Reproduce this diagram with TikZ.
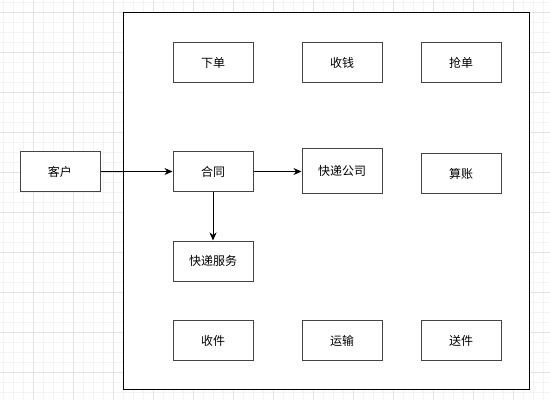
\documentclass[tikz,border=0pt]{standalone}
\usepackage{fontspec}
\newfontfamily\cjk{Noto Sans CJK SC}
\usetikzlibrary{arrows.meta}
\definecolor{minorgrid}{HTML}{F3F3F3}
\definecolor{majorgrid}{HTML}{E3E3E3}
\definecolor{boxline}{HTML}{444444}
\begin{document}
\begin{tikzpicture}[x=1pt,y=-1pt,
  boxnode/.style={draw=boxline,line width=1pt,fill=white,minimum width=80pt,minimum height=40pt,inner sep=0pt,font=\cjk\fontsize{12}{14}\selectfont,anchor=north west},
  conn/.style={line width=1pt,-{Stealth[length=8pt,width=7pt,inset=2.5pt]}}]
\useasboundingbox (0,0) rectangle (550,400);
\fill[white] (0,0) rectangle (550,400);
% grid
\foreach \i in {0,...,55} {\draw[minorgrid,line width=0.5pt] (3.5+10*\i,0) -- (3.5+10*\i,400);}
\foreach \i in {0,...,40} {\draw[minorgrid,line width=0.5pt] (0,2+10*\i) -- (550,2+10*\i);}
\foreach \i in {0,...,13} {\draw[majorgrid,line width=0.8pt] (33.5+40*\i,0) -- (33.5+40*\i,400);}
\foreach \i in {0,...,9} {\draw[majorgrid,line width=0.8pt] (0,12+40*\i) -- (550,12+40*\i);}
% container
\node[draw=black,line width=1pt,fill=white,minimum width=406pt,minimum height=377pt,inner sep=0pt,anchor=north west] (sys) at (123,12) {};
% nodes
\node[boxnode] (xiadan) at (172.5,42) {下单};
\node[boxnode] (shouqian) at (301.5,42) {收钱};
\node[boxnode] (qiangdan) at (420.5,42) {抢单};
\node[boxnode] (kehu) at (19.5,151) {客户};
\node[boxnode] (hetong) at (172.5,151) {合同};
\node[boxnode,minimum height=45pt] (gongsi) at (301.5,148) {快递公司};
\node[boxnode] (suanzhang) at (420.5,153) {算账};
\node[boxnode] (fuwu) at (172.5,240.5) {快递服务};
\node[boxnode] (shoujian) at (172.5,320) {收件};
\node[boxnode] (yunshu) at (301.5,320) {运输};
\node[boxnode] (songjian) at (420.5,320) {送件};
% connectors
\draw[conn] (kehu.east) -- (hetong.west);
\draw[conn] (hetong.east) -- (gongsi.west |- hetong.east);
\draw[conn] (hetong.south) -- (fuwu.north);
\end{tikzpicture}
\end{document}
